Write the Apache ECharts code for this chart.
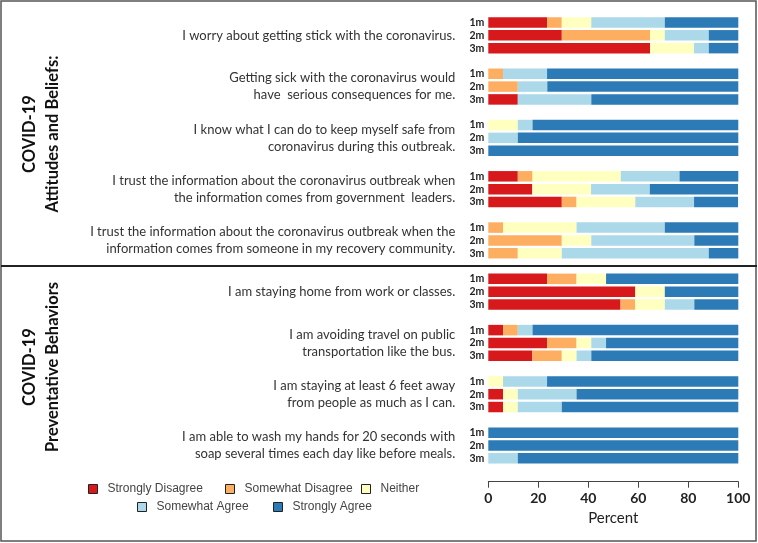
<!DOCTYPE html>
<html><head><meta charset="utf-8">
<script src="https://cdn.jsdelivr.net/npm/echarts@6/dist/echarts.min.js"></script>
<style>html,body{margin:0;padding:0;background:#fff}#c{width:758px;height:543px}</style>
</head><body><div id="c"></div>
<script>
const questions = [
  "I worry about getting stick with the coronavirus.",
  "Getting sick with the coronavirus would\nhave  serious consequences for me.",
  "I know what I can do to keep myself safe from\ncoronavirus during this outbreak.",
  "I trust the information about the coronavirus outbreak when\nthe information comes from government  leaders.",
  "I trust the information about the coronavirus outbreak when the\ninformation comes from someone in my recovery community.",
  "I am staying home from work or classes.",
  "I am avoiding travel on public\ntransportation like the bus.",
  "I am staying at least 6 feet away\nfrom people as much as I can.",
  "I am able to wash my hands for 20 seconds with\nsoap several times each day like before meals."
];
const months = ["1m", "2m", "3m"];
const seriesNames = ["Strongly Disagree", "Somewhat Disagree", "Neither", "Somewhat Agree", "Strongly Agree"];
const colors = ["#d7191c", "#fdae61", "#ffffbf", "#abd9e9", "#2c7bb6"];
const xTicks = [0, 20, 40, 60, 80, 100];
// values per question (1m,2m,3m)
const stronglyDisagree = [23.5,29.4,64.7, 0,0,11.8, 0,0,0, 11.8,17.6,29.4, 0,0,0, 23.5,58.8,52.9, 5.9,23.5,17.6, 0,5.9,5.9, 0,0,0];
const somewhatDisagree = [5.9,35.3,0, 5.9,11.8,0, 0,0,0, 5.9,0,5.9, 5.9,29.4,11.8, 11.8,0,5.9, 5.9,11.8,11.8, 0,0,0, 0,0,0];
const neither          = [11.8,5.9,17.6, 0,0,0, 11.8,0,0, 35.3,23.5,23.5, 29.4,11.8,17.6, 11.8,11.8,11.8, 0,5.9,5.9, 5.9,5.9,5.9, 0,0,0];
const somewhatAgree    = [29.4,17.6,5.9, 17.6,11.8,29.4, 5.9,11.8,0, 23.5,23.5,23.5, 35.3,41.2,58.8, 0,0,11.8, 5.9,5.9,5.9, 17.6,23.5,17.6, 0,0,11.8];
const stronglyAgree    = [29.4,11.8,11.8, 76.5,76.5,58.8, 82.4,88.2,100, 23.5,35.3,17.6, 29.4,17.6,11.8, 52.9,29.4,17.6, 82.4,52.9,58.8, 76.5,64.7,70.6, 100,100,88.2];
const allValues = [stronglyDisagree, somewhatDisagree, neither, somewhatAgree, stronglyAgree];

// build slots: 3 bars per question + 1 blank slot between questions
const slotLabels = [], slotQuestion = [], slotIndex = [];
questions.forEach((q, qi) => {
  months.forEach((m, mi) => {
    slotLabels.push(m);
    slotQuestion.push(mi === 1 ? q : "");
    slotIndex.push(qi * 3 + mi);
  });
  if (qi < questions.length - 1) { slotLabels.push(""); slotQuestion.push(""); slotIndex.push(-1); }
});
const slotCats = slotLabels.map((l, i) => "s" + i);

const series = seriesNames.map((name, si) => ({
  name, type: "bar", stack: "all", barWidth: 10.5,
  itemStyle: { color: colors[si] },
  data: slotIndex.map(k => k < 0 ? null : allValues[si][k])
}));

const legendBase = {
  icon: "rect", itemWidth: 9, itemHeight: 9, orient: "horizontal", padding: 0,
  itemStyle: { borderColor: "#222", borderWidth: 1 },
  textStyle: { fontFamily: "Liberation Sans", fontSize: 12, color: "#444", padding: [0, 0, 0, 5] },
  selectedMode: false
};
const legendPos = [[88, 483], [225, 483], [361, 483], [137, 501], [273, 501]];

const chart = echarts.init(document.getElementById("c"), null, { renderer: "canvas" });
chart.setOption({
  backgroundColor: "#fff",
  animation: false,
  grid: { left: 488.3, right: 19.7, top: 16.1, bottom: 78.3, containLabel: false },
  xAxis: {
    type: "value", min: 0, max: 100, interval: 20, offset: 17,
    axisLine: { show: true, lineStyle: { color: "#444", width: 1 } },
    axisTick: { show: true, length: 6, lineStyle: { color: "#444" } },
    splitLine: { show: false },
    axisLabel: { margin: 10, fontFamily: "Lato", fontWeight: "bold", fontSize: 14, color: "#222",
      formatter: v => xTicks.includes(v) ? String(v) : "" },
    name: "Percent", nameLocation: "middle", nameGap: 24,
    nameTextStyle: { fontFamily: "Lato", fontSize: 15, color: "#222" }
  },
  yAxis: [
    { type: "category", data: slotCats, inverse: true,
      axisLine: { show: false }, axisTick: { show: false },
      axisLabel: { interval: 0, margin: 4, fontFamily: "Lato", fontWeight: "bold", fontSize: 10.5, color: "#222",
        formatter: (v, i) => slotLabels[i] } },
    { type: "category", data: slotCats, inverse: true, position: "left",
      axisLine: { show: false }, axisTick: { show: false },
      axisLabel: { interval: 0, margin: 33, fontFamily: "Lato", fontSize: 13, color: "#333", lineHeight: 17, align: "right",
        formatter: (v, i) => slotQuestion[i] } }
  ],
  legend: seriesNames.map((n, i) => Object.assign({}, legendBase, { data: [n], left: legendPos[i][0], top: legendPos[i][1] })),
  series,
  graphic: [
    { type: "rect", shape: { x: 1, y: 1, width: 755, height: 540 }, style: { fill: null, stroke: "#555", lineWidth: 1.5 }, silent: true },
    { type: "line", shape: { x1: 1, y1: 266, x2: 757, y2: 266 }, style: { stroke: "#222", lineWidth: 2.2 }, silent: true },
    { type: "text", x: 30, y: 134, rotation: Math.PI / 2, style: { text: "COVID-19", fontFamily: "Lato", fontWeight: "bold", fontSize: 16.5, fill: "#111", align: "center", verticalAlign: "middle" } },
    { type: "text", x: 53, y: 134, rotation: Math.PI / 2, style: { text: "Attitudes and Beliefs:", fontFamily: "Lato", fontWeight: "bold", fontSize: 16.5, fill: "#111", align: "center", verticalAlign: "middle" } },
    { type: "text", x: 30, y: 367, rotation: Math.PI / 2, style: { text: "COVID-19", fontFamily: "Lato", fontWeight: "bold", fontSize: 16.5, fill: "#111", align: "center", verticalAlign: "middle" } },
    { type: "text", x: 53, y: 367, rotation: Math.PI / 2, style: { text: "Preventative Behaviors", fontFamily: "Lato", fontWeight: "bold", fontSize: 16.5, fill: "#111", align: "center", verticalAlign: "middle" } }
  ]
});
</script>
</body></html>
